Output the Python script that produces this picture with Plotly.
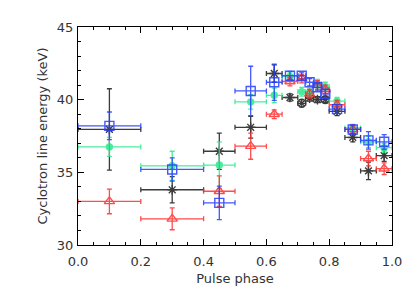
import plotly.graph_objects as go

phase = [0.1, 0.3, 0.45, 0.55, 0.625, 0.675, 0.7125, 0.7375, 0.7625, 0.7875, 0.825, 0.875, 0.925, 0.975]
phase_err = [0.1, 0.1, 0.05, 0.05, 0.025, 0.025, 0.0125, 0.0125, 0.0125, 0.0125, 0.025, 0.025, 0.025, 0.025]

black_e = [37.95, 33.8, 36.45, 38.1, 41.8, 40.15, 39.75, 40.1, 40.0, 40.0, 39.2, 37.4, 35.1, 36.15]
black_err = [2.8, 0.9, 1.25, 0.75, 0.6, 0.25, 0.25, 0.2, 0.2, 0.2, 0.3, 0.3, 0.6, 0.4]

blue_e = [38.2, 35.2, 32.9, 40.6, 41.2, 41.65, 41.65, 41.2, 40.85, 40.4, 39.35, 37.95, 37.2, 37.1]
blue_err = [0.95, 0.8, 1.15, 1.7, 1.25, 0.3, 0.25, 0.25, 0.25, 0.3, 0.3, 0.3, 0.6, 0.5]

green_e = [36.75, 35.45, 35.5, 39.85, 40.3, 41.6, 40.55, 40.5, 41.1, 40.9, 39.9, 38.05, 37.1, 36.7]
green_err = [0.65, 1.0, 1.6, 0.5, 0.5, 0.3, 0.3, 0.3, 0.3, 0.3, 0.25, 0.25, 0.4, 0.3]

red_e = [33.0, 31.8, 33.7, 36.8, 39.0, 41.25, 41.45, 40.4, 41.0, 40.7, 39.65, 37.95, 35.95, 35.25]
red_err = [0.85, 0.75, 1.05, 0.9, 0.3, 0.3, 0.3, 0.3, 0.3, 0.3, 0.3, 0.3, 0.5, 0.4]

black_sym = ["asterisk-open"] * len(phase)
black_sym[6] = "circle-x-open"
black_sym[9] = "circle-x-open"

series = [
    ("black", black_e, black_err, "rgb(25,25,25)", black_sym, 8),
    ("green", green_e, green_err, "rgb(40,235,140)", "circle", 6),
    ("red", red_e, red_err, "rgb(255,45,45)", "triangle-up-open", 9),
    ("blue", blue_e, blue_err, "rgb(35,60,255)", "square-open", 9),
]

fig = go.Figure()
for name, e, err, col, sym, size in series:
    fig.add_trace(go.Scatter(
        x=phase, y=e, mode="markers", name=name,
        marker=dict(symbol=sym, size=size, color=col,
                    line=dict(color=col, width=1.4)),
        error_x=dict(type="data", array=phase_err, color=col, thickness=1.3, width=2.5),
        error_y=dict(type="data", array=err, color=col, thickness=1.3, width=2.5),
        opacity=0.85,
        showlegend=False,
    ))

axis_font = dict(family="DejaVu Sans, Arial, sans-serif", size=13, color="#333")
fig.update_layout(
    width=407, height=289,
    margin=dict(l=70, r=23, t=17, b=52),
    paper_bgcolor="white", plot_bgcolor="white",
    font=axis_font,
    xaxis=dict(range=[0, 1], dtick=0.2, tickformat=".1f",
               ticks="inside", ticklen=6, tickcolor="black", ticklabelstandoff=4,
               showline=True, linecolor="black", linewidth=1, mirror="allticks",
               showgrid=False, zeroline=False,
               minor=dict(ticks="inside", dtick=0.05, ticklen=3, tickcolor="black", showgrid=False),
               title=dict(text="Pulse phase", font=axis_font, standoff=6)),
    yaxis=dict(range=[30, 45], dtick=5,
               ticks="inside", ticklen=6, tickcolor="black", ticklabelstandoff=1,
               showline=True, linecolor="black", linewidth=1, mirror="allticks",
               showgrid=False, zeroline=False,
               minor=dict(ticks="inside", dtick=1, ticklen=3, tickcolor="black", showgrid=False),
               title=dict(text="Cyclotron line energy (keV)", font=axis_font, standoff=6)),
)

fig.write_html("out.html")
